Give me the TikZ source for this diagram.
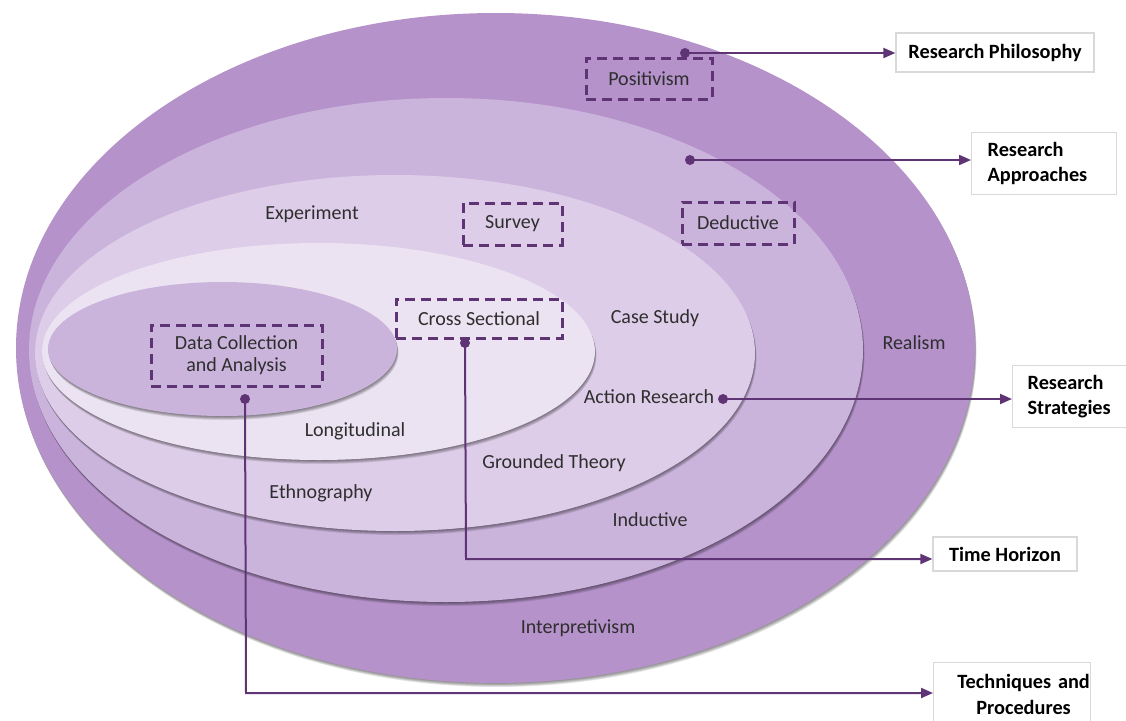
\documentclass[tikz,border=0pt]{standalone}
\usepackage{fontspec}
\setmainfont{Carlito}
\usetikzlibrary{arrows.meta}
\definecolor{ringA}{HTML}{B592CA}
\definecolor{ringB}{HTML}{CBB4DC}
\definecolor{ringC}{HTML}{DDCDE8}
\definecolor{ringD}{HTML}{EBE3F2}
\definecolor{ringE}{HTML}{CBB4DC}
\definecolor{dpurple}{HTML}{5F3474}
\definecolor{txt}{HTML}{2E2E2E}
\definecolor{boxline}{HTML}{D9D9D9}
\tikzset{
  lbl/.style={font=\fontsize{20}{22}\selectfont, text=txt, inner sep=0pt},
  dbox/.style={lbl, draw=dpurple, line width=3pt, dash pattern=on 10pt off 6pt, align=center},
  rbox/.style={draw=boxline, line width=1.2pt, fill=white, text=black,
    font=\fontsize{20.3}{25.5}\selectfont\bfseries, inner ysep=0pt},
  conn/.style={draw=dpurple, line width=2pt, -{Triangle[length=12pt,width=10pt]}},
  dotmark/.style={fill=dpurple},
}
\begin{document}
\begin{tikzpicture}[x=1pt,y=-1pt]
\useasboundingbox (0,0) rectangle (1126,720);
% nested ellipses with soft shadows
\foreach \cx/\cy/\rx/\ry/\col in {495.5/348/479.5/335/ringA, 446/350/417/252/ringB,
   395/353/360/178/ringC, 318.5/351.5/276.5/108.5/ringD, 222.5/349/174.5/67/ringE}{
  \foreach \s in {1,2,3,4,5}{
    \fill[black, opacity=0.1] (\cx+0.3*\s,\cy+0.8*\s) ellipse [x radius=\rx pt, y radius=\ry pt];
  }
  \fill[\col] (\cx,\cy) ellipse [x radius=\rx pt, y radius=\ry pt];
}
% plain labels
\node[lbl] (experiment) at (312,214) {Experiment};
\node[lbl] (casestudy) at (655,318) {Case Study};
\node[lbl] (action) at (649,397) {Action Research};
\node[lbl] (realism) at (914,343) {Realism};
\node[lbl] (longitudinal) at (355,431) {Longitudinal};
\node[lbl] (grounded) at (554,463) {Grounded Theory};
\node[lbl] (ethno) at (321,493) {Ethnography};
\node[lbl] (inductive) at (650,520) {Inductive};
\node[lbl] (interp) at (578,628) {Interpretivism};
% dashed boxes
\node[dbox, minimum width=126pt, minimum height=41pt] (positivism) at (649,78.5) {Positivism};
\node[dbox, minimum width=99pt, minimum height=42pt] (survey) at (512.5,224) {Survey};
\node[dbox, minimum width=112pt, minimum height=42pt] (deductive) at (738,223) {Deductive};
\node[dbox, minimum width=166pt, minimum height=39pt] (crosssec) at (479,318.5) {Cross Sectional};
\node[dbox, minimum width=171pt, minimum height=61pt] (datacoll) at (236.5,355.5) {Data Collection\\and Analysis};
% right-hand boxes
\node[rbox, minimum width=198pt, minimum height=39pt] (philosophy) at (995,52.5) {Research Philosophy};
\node[rbox, anchor=north west, minimum height=62pt, text width=113pt, inner xsep=16pt, align=left]
  (approaches) at (971,132) {Research\\Approaches};
\node[rbox, anchor=north west, minimum height=62pt, text width=110pt, inner xsep=15pt, align=left]
  (strategies) at (1012,365) {Research\\Strategies};
\node[rbox, minimum width=144pt, minimum height=34pt] (timeh) at (1005,554) {Time Horizon};
\node[rbox, anchor=north west, minimum height=64pt, text width=157pt, inner xsep=0pt, align=center]
  (techniques) at (933,662) {\hspace*{23pt}Techniques and\\\hspace*{23pt}Procedures};
% connector start points and corners
\coordinate (d1) at (685,53);
\coordinate (d2) at (690,160);
\coordinate (d3) at (723,399);
\coordinate (d4) at (465,343);
\coordinate (c4) at (466,559);
\coordinate (d5) at (245,399);
\coordinate (c5) at (246,693);
\draw[conn] (d1) -- (d1 -| philosophy.west);
\draw[conn] (d2) -- (d2 -| approaches.west);
\draw[conn] (d3) -- (d3 -| strategies.west);
\draw[conn] (d4) -- (c4) -- (c4 -| timeh.west);
\draw[conn] (d5) -- (c5) -- (c5 -| techniques.west);
\foreach \d in {d1,d2,d3,d4,d5}{ \fill[dotmark] (\d) circle (5pt); }
\end{tikzpicture}
\end{document}
